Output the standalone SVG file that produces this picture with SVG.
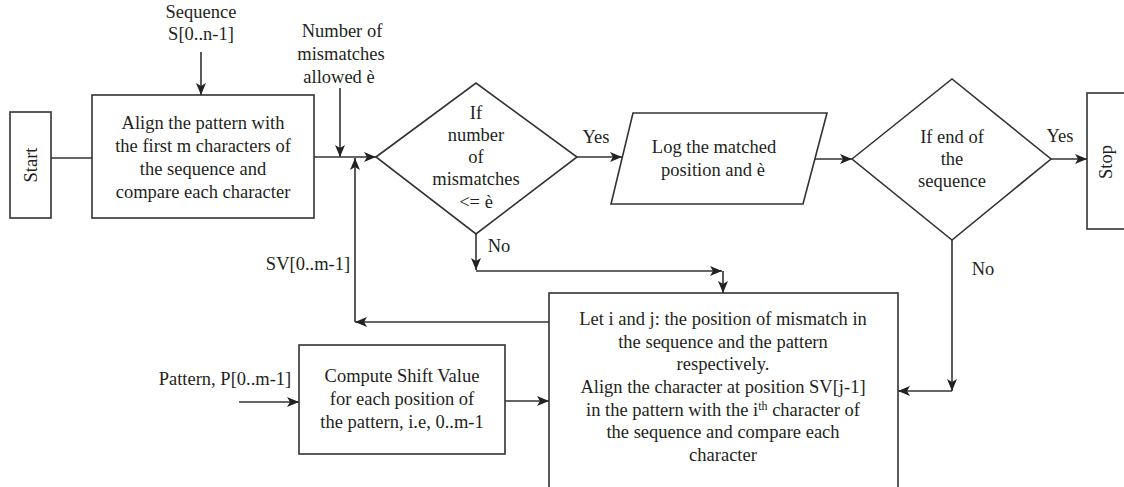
<svg xmlns="http://www.w3.org/2000/svg" width="1124" height="487" viewBox="0 0 1124 487">
<style>
.b{fill:#fff;stroke:#333;stroke-width:1.6}
.c{fill:none;stroke:#333;stroke-width:1.6}
text{font-family:"Liberation Serif","Times New Roman",serif;font-size:18.5px;fill:#231f20;text-anchor:middle}
</style>
<defs>
<marker id="a" viewBox="0 0 12 10" refX="12" refY="5" markerWidth="12" markerHeight="10" markerUnits="userSpaceOnUse" orient="auto">
<path d="M0,0 L12,5 L0,10 L3,5 z" fill="#222"/>
</marker>
</defs>
<g id="start"><rect class="b" x="10" y="112" width="41" height="106"/><text transform="translate(37,165) rotate(-90)">Start</text></g>
<g id="align"><rect class="b" x="92" y="95" width="222" height="123"/>
<text x="203" y="129">Align the pattern with</text><text x="203" y="152">the first m characters of</text><text x="203" y="175">the sequence and</text><text x="203" y="198">compare each character</text></g>
<g id="seq-label"><text x="201" y="18">Sequence</text><text x="201" y="40">S[0..n-1]</text></g>
<g id="mm-label"><text x="342" y="37">Number of</text><text x="341" y="60">mismatches</text><text x="339" y="83">allowed è</text></g>
<g id="dec1"><polygon class="b" points="376,157 476,83 577,157 476,234"/>
<text x="476" y="119">If</text><text x="476" y="141">number</text><text x="476" y="163">of</text><text x="476" y="185">mismatches</text><text x="476" y="208">&lt;= è</text></g>
<g id="log"><polygon class="b" points="633,113 827,113 803,204 611,204"/><text x="714" y="153">Log the matched</text><text x="713" y="176">position and è</text></g>
<g id="dec2"><polygon class="b" points="852,159 952,79 1051,159 952,240"/>
<text x="952" y="143">If end of</text><text x="952" y="165">the</text><text x="952" y="187">sequence</text></g>
<g id="stop"><rect class="b" x="1087" y="93" width="45" height="136"/><text transform="translate(1112,162) rotate(-90)">Stop</text></g>
<g id="shift"><rect class="b" x="299" y="345" width="206" height="109"/>
<text x="402" y="382">Compute Shift Value</text><text x="402" y="405">for each position of</text><text x="402" y="428">the pattern, i.e, 0..m-1</text></g>
<g id="pat-label"><text x="225" y="385">Pattern, P[0..m-1]</text></g>
<g id="sv-label"><text x="308" y="270">SV[0..m-1]</text></g>
<g id="mismatch"><rect class="b" x="549" y="293" width="349" height="200"/>
<text x="723" y="325">Let i and j: the position of mismatch in</text>
<text x="723" y="348">the sequence and the pattern</text>
<text x="723" y="370">respectively.</text>
<text x="723" y="393">Align the character at position SV[j-1]</text>
<text x="723" y="416">in the pattern with the i<tspan font-size="12" dy="-6">th</tspan><tspan dy="6"> character of</tspan></text>
<text x="723" y="438">the sequence and compare each</text>
<text x="723" y="461">character</text></g>
<g id="connectors">
<path class="c" d="M51,158 H92"/>
<path class="c" d="M201,52 V95" marker-end="url(#a)"/>
<path class="c" d="M340,88 V157" marker-end="url(#a)"/>
<path class="c" d="M314,157 H376" marker-end="url(#a)"/>
<path class="c" d="M577,157 H622" marker-end="url(#a)"/>
<path class="c" d="M815,159 H852" marker-end="url(#a)"/>
<path class="c" d="M1051,159 H1087" marker-end="url(#a)"/>
<path class="c" d="M476,234 V270" marker-end="url(#a)"/>
<path class="c" d="M476,271 H722" marker-end="url(#a)"/>
<path class="c" d="M723,271 V293" marker-end="url(#a)"/>
<path class="c" d="M952,240 V391" marker-end="url(#a)"/>
<path class="c" d="M952,391 H898" marker-end="url(#a)"/>
<path class="c" d="M549,322 H355" marker-end="url(#a)"/>
<path class="c" d="M355,322 V158" marker-end="url(#a)"/>
<path class="c" d="M239,402 H299" marker-end="url(#a)"/>
<path class="c" d="M505,401 H549" marker-end="url(#a)"/>
<text x="596" y="143">Yes</text>
<text x="1060" y="142">Yes</text>
<text x="499" y="252">No</text>
<text x="983" y="275">No</text>
</g>
</svg>
